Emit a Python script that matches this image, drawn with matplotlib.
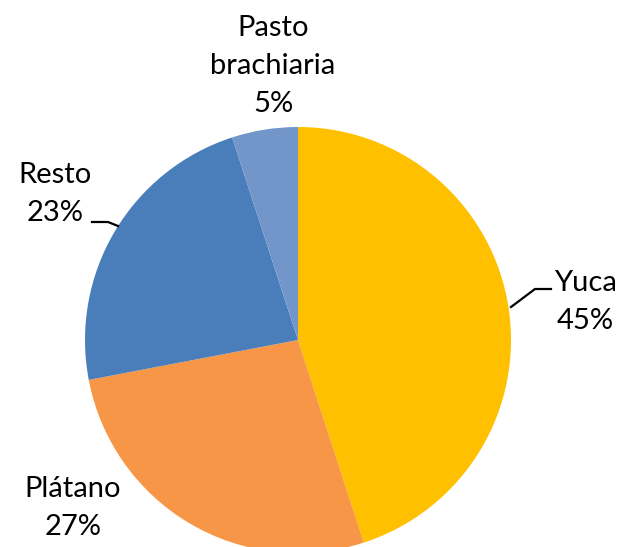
import matplotlib.pyplot as plt

cultivos = ['Yuca', 'Plátano', 'Resto', 'Pasto\nbrachiaria']
porcentaje = [45, 27, 23, 5]
colores = ['#FFC000', '#F79646', '#4A7EBB', '#7396CA']

W, H = 621, 547
fig = plt.figure(figsize=(W / 100, H / 100), dpi=100)
ax = fig.add_axes([0, 0, 1, 1])

# pie in pixel coords (y measured from the bottom)
cx, cy, r = 298, H - 340, 213
ax.pie(porcentaje, colors=colores, startangle=90, counterclock=False,
       center=(cx, cy), radius=r, wedgeprops=dict(linewidth=0))

ax.set_xlim(0, W)
ax.set_ylim(0, H)
ax.set_aspect('auto')
ax.axis('off')

# label positions (pixels, from top)
pos = {'Yuca': (585, 302), 'Plátano': (73, 508), 'Resto': (55, 194),
       'Pasto\nbrachiaria': (273, 66)}
for c, p in zip(cultivos, porcentaje):
    x, y = pos[c]
    ax.text(x, H - y, '%s\n%d%%' % (c, p), ha='center', va='center',
            fontsize=21, family='Lato', linespacing=1.55, color='black')

# leader lines
ax.plot([92, 108, 118], [H - 222, H - 222, H - 226], color='black', lw=1.6)
ax.plot([511, 535, 551], [H - 307, H - 289, H - 289], color='black', lw=1.6)

fig.savefig('out.png', dpi=100)
